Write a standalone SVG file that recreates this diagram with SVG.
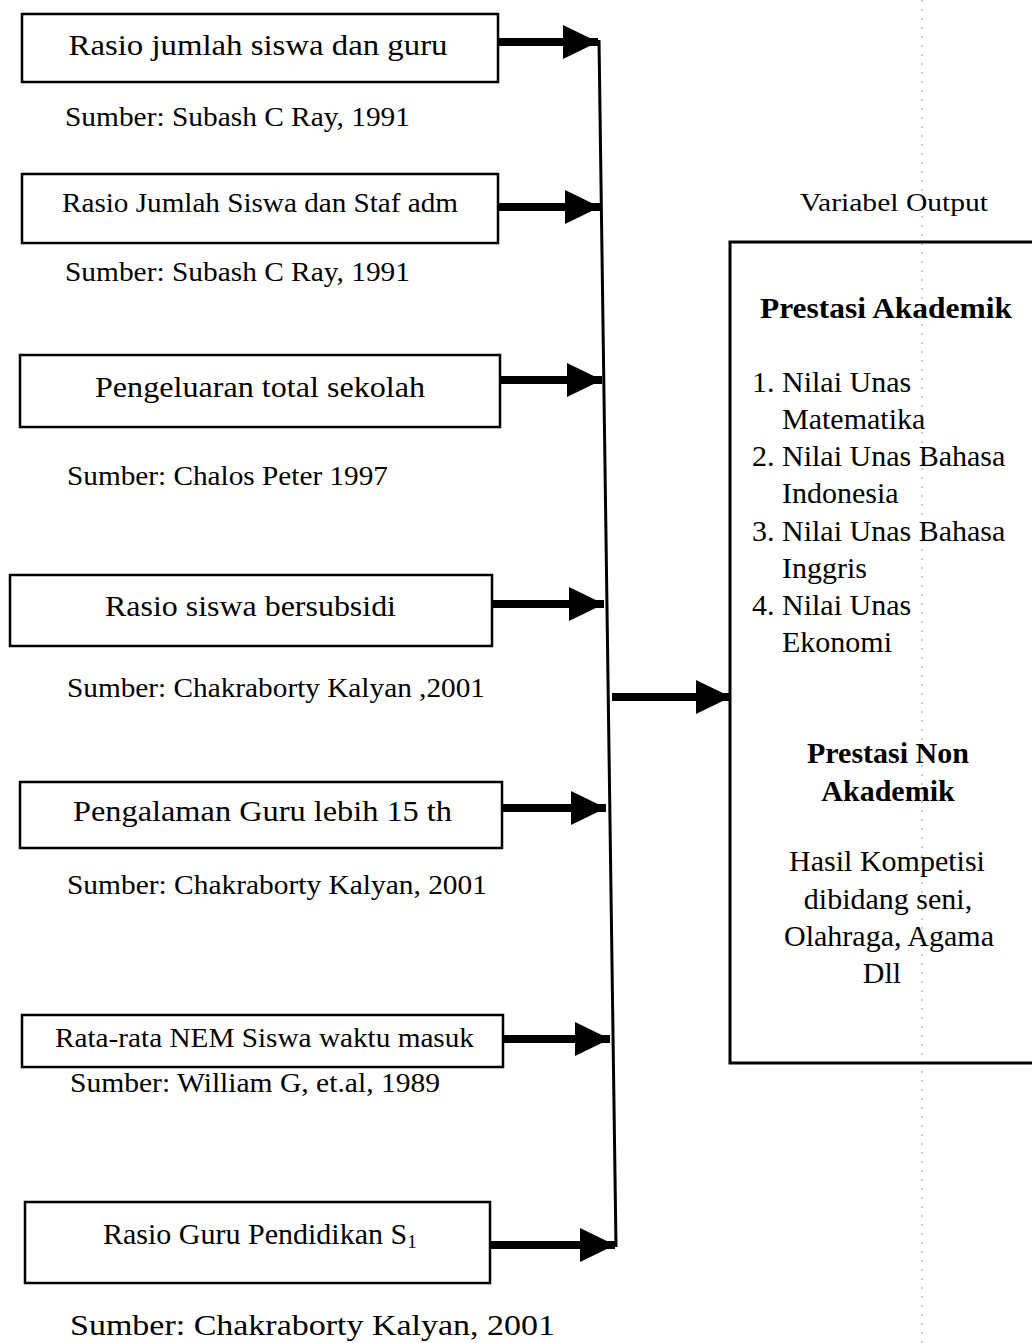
<svg xmlns="http://www.w3.org/2000/svg" width="1032" height="1343" viewBox="0 0 1032 1343">
<style>
.box{fill:#fff;stroke:#000;stroke-width:2.5}
.t{font-family:"Liberation Serif","Times New Roman",serif;fill:#000}
.bt{font-size:30px}
.src{font-size:27px}
.rt{font-size:30px}
.b{font-weight:bold}
.conn{stroke:#000;fill:none}
</style>
<defs>
<marker id="ah" markerUnits="userSpaceOnUse" markerWidth="36" markerHeight="36" refX="35" refY="17" orient="auto">
<path d="M0,0 L35,17 L0,34 z" fill="#000"/>
</marker>
</defs>
<line x1="922" y1="0" x2="922" y2="1343" stroke="#999" stroke-width="1" stroke-dasharray="2 7"/>
<g id="n1">
<rect class="box" x="22" y="14" width="476" height="68"/>
<text class="t bt" x="258" y="55" text-anchor="middle" textLength="379" lengthAdjust="spacingAndGlyphs">Rasio jumlah siswa  dan guru</text>
<text class="t src" x="65" y="126" textLength="345" lengthAdjust="spacingAndGlyphs">Sumber: Subash C Ray, 1991</text>
</g>
<g id="n2">
<rect class="box" x="22" y="174" width="476" height="69"/>
<text class="t" style="font-size:27px" x="62" y="212" textLength="396" lengthAdjust="spacingAndGlyphs">Rasio Jumlah Siswa dan Staf adm</text>
<text class="t src" x="65" y="281" textLength="345" lengthAdjust="spacingAndGlyphs">Sumber: Subash C Ray, 1991</text>
</g>
<g id="n3">
<rect class="box" x="20" y="355" width="480" height="72"/>
<text class="t bt" x="95" y="397" textLength="330" lengthAdjust="spacingAndGlyphs">Pengeluaran total sekolah</text>
<text class="t src" x="67" y="485" textLength="321" lengthAdjust="spacingAndGlyphs">Sumber: Chalos Peter 1997</text>
</g>
<g id="n4">
<rect class="box" x="10" y="575" width="482" height="71"/>
<text class="t bt" x="105" y="616" textLength="291" lengthAdjust="spacingAndGlyphs">Rasio siswa bersubsidi</text>
<text class="t src" x="67" y="697" textLength="418" lengthAdjust="spacingAndGlyphs">Sumber: Chakraborty Kalyan ,2001</text>
</g>
<g id="n5">
<rect class="box" x="20" y="782" width="482" height="66"/>
<text class="t bt" x="73" y="821" textLength="379" lengthAdjust="spacingAndGlyphs">Pengalaman Guru lebih 15 th</text>
<text class="t src" x="67" y="894" textLength="420" lengthAdjust="spacingAndGlyphs">Sumber: Chakraborty Kalyan, 2001</text>
</g>
<g id="n6">
<rect class="box" x="22" y="1015" width="481" height="52"/>
<text class="t" style="font-size:27px" x="55" y="1047" textLength="419" lengthAdjust="spacingAndGlyphs">Rata-rata NEM Siswa waktu masuk</text>
<text class="t src" x="70" y="1092" textLength="370" lengthAdjust="spacingAndGlyphs">Sumber: William G, et.al, 1989</text>
</g>
<g id="n7">
<rect class="box" x="25" y="1202" width="465" height="81"/>
<text class="t bt" x="103" y="1244">Rasio Guru Pendidikan S<tspan style="font-size:19px" dy="4">1</tspan></text>
<text class="t" style="font-size:30px" x="70" y="1335" textLength="485" lengthAdjust="spacingAndGlyphs">Sumber: Chakraborty Kalyan, 2001</text>
</g>
<g id="output">
<text class="t" style="font-size:25px" x="894" y="211" text-anchor="middle" textLength="188" lengthAdjust="spacingAndGlyphs">Variabel Output</text>
<rect x="730" y="242" width="320" height="821" fill="none" stroke="#000" stroke-width="3"/>
<text class="t rt b" x="886" y="318" text-anchor="middle" textLength="252" lengthAdjust="spacingAndGlyphs">Prestasi Akademik</text>
<text class="t rt" x="752" y="392">1. Nilai Unas</text>
<text class="t rt" x="782" y="429">Matematika</text>
<text class="t rt" x="752" y="466">2. Nilai Unas Bahasa</text>
<text class="t rt" x="782" y="503">Indonesia</text>
<text class="t rt" x="752" y="541">3. Nilai Unas Bahasa</text>
<text class="t rt" x="782" y="578">Inggris</text>
<text class="t rt" x="752" y="615">4. Nilai Unas</text>
<text class="t rt" x="782" y="652">Ekonomi</text>
<text class="t rt b" x="888" y="763" text-anchor="middle">Prestasi Non</text>
<text class="t rt b" x="888" y="801" text-anchor="middle">Akademik</text>
<text class="t rt" x="887" y="871" text-anchor="middle">Hasil Kompetisi</text>
<text class="t rt" x="888" y="909" text-anchor="middle">dibidang seni,</text>
<text class="t rt" x="889" y="946" text-anchor="middle">Olahraga, Agama</text>
<text class="t rt" x="882" y="983" text-anchor="middle">Dll</text>
</g>
<g id="connectors">
<line class="conn" x1="599" y1="40" x2="616" y2="1247" stroke-width="3"/>
<line class="conn" x1="498" y1="42" x2="598" y2="42" stroke-width="8" marker-end="url(#ah)"/>
<line class="conn" x1="498" y1="207" x2="600" y2="207" stroke-width="8" marker-end="url(#ah)"/>
<line class="conn" x1="500" y1="380" x2="602" y2="380" stroke-width="8" marker-end="url(#ah)"/>
<line class="conn" x1="492" y1="604" x2="604" y2="604" stroke-width="8" marker-end="url(#ah)"/>
<line class="conn" x1="502" y1="808" x2="606" y2="808" stroke-width="8" marker-end="url(#ah)"/>
<line class="conn" x1="503" y1="1039" x2="610" y2="1039" stroke-width="8" marker-end="url(#ah)"/>
<line class="conn" x1="490" y1="1245" x2="615" y2="1245" stroke-width="8" marker-end="url(#ah)"/>
<line class="conn" x1="612" y1="697" x2="731" y2="697" stroke-width="8" marker-end="url(#ah)"/>
</g>
</svg>
